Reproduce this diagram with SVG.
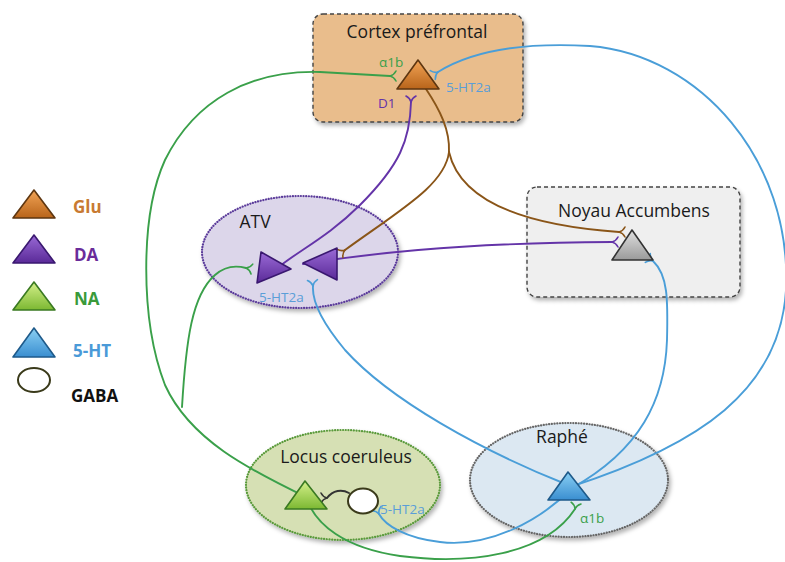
<svg xmlns="http://www.w3.org/2000/svg" xmlns:xlink="http://www.w3.org/1999/xlink" width="785" height="562" viewBox="0 0 785 562">
<defs>
<linearGradient id="gOr" x1="0" y1="0" x2="0" y2="1"><stop offset="0" stop-color="#F2A456"/><stop offset="1" stop-color="#B8641A"/></linearGradient>
<linearGradient id="gPu" x1="0" y1="0" x2="0" y2="1"><stop offset="0" stop-color="#9A6AD6"/><stop offset="1" stop-color="#5A2A98"/></linearGradient>
<linearGradient id="gGr" x1="0" y1="0" x2="0" y2="1"><stop offset="0" stop-color="#D4F08A"/><stop offset="1" stop-color="#7CB832"/></linearGradient>
<linearGradient id="gBl" x1="0" y1="0" x2="0" y2="1"><stop offset="0" stop-color="#8AD0F4"/><stop offset="1" stop-color="#3A8ED0"/></linearGradient>
<linearGradient id="gGy" x1="0" y1="0" x2="0" y2="1"><stop offset="0" stop-color="#E0E0E0"/><stop offset="1" stop-color="#9A9A9A"/></linearGradient>
<filter id="sh" x="-10%" y="-10%" width="130%" height="130%"><feDropShadow dx="2" dy="3" stdDeviation="2" flood-color="#000" flood-opacity="0.3"/></filter>
<path id="fork" d="M0 0 Q4 -1 6 -5 M0 0 Q4 1 6 5" fill="none" stroke="currentColor" stroke-width="1.6" stroke-linecap="round"/>
</defs>
<style>
text{font-family:"Open Sans","Liberation Sans",sans-serif}
.title{font-size:17.5px;fill:#1a1a1a}
.lab{font-size:13.5px}
.leg{font-size:17px;font-weight:bold}
.box{stroke:#444;stroke-width:1.4;stroke-dasharray:4 3}
.ell{stroke-width:2.2;stroke-dasharray:0.1 2.6;stroke-linecap:round}
.c{fill:none;stroke-width:1.9;stroke-linecap:round}
.gr{stroke:#3AA04A;color:#3AA04A}
.bl{stroke:#4A9ED8;color:#4A9ED8}
.pu{stroke:#6434A8;color:#6434A8}
.br{stroke:#8A5518;color:#8A5518}
.tOr{fill:url(#gOr);stroke:#5E3610;stroke-width:1.6;stroke-linejoin:round}
.tPu{fill:url(#gPu);stroke:#3A1870;stroke-width:1.6;stroke-linejoin:round}
.tGr{fill:url(#gGr);stroke:#3A7A22;stroke-width:1.6;stroke-linejoin:round}
.tBl{fill:url(#gBl);stroke:#1E5A8A;stroke-width:1.6;stroke-linejoin:round}
.tGy{fill:url(#gGy);stroke:#333;stroke-width:1.6;stroke-linejoin:round}
</style>
<rect width="785" height="562" fill="#fff"/>

<g id="cortex">
<rect class="box" x="313" y="14" width="210" height="108" rx="10" fill="#E9BD8C" filter="url(#sh)"/>
<text class="title" x="417" y="38" text-anchor="middle">Cortex préfrontal</text>
<text class="lab" x="379" y="67" fill="#3AA04A">α1b</text>
<text class="lab" x="446" y="92" fill="#5A9ED8">5-HT2a</text>
<text class="lab" x="378" y="108" fill="#6434A8">D1</text>
</g>

<g id="noyau-accumbens">
<rect class="box" x="527" y="187" width="213" height="110" rx="10" fill="#EFEFEF" filter="url(#sh)"/>
<text class="title" x="634" y="217" text-anchor="middle">Noyau Accumbens</text>
</g>

<g id="atv">
<ellipse class="ell" cx="300" cy="252" rx="98" ry="56" fill="#DCD6EA" stroke="#5A3A9A" filter="url(#sh)"/>
<text class="title" x="255" y="228" text-anchor="middle">ATV</text>
<text class="lab" x="259" y="302" fill="#5A9ED8">5-HT2a</text>
</g>

<g id="locus-coeruleus">
<ellipse class="ell" cx="343" cy="485" rx="97" ry="55" fill="#D6E0B4" stroke="#5A9A3A" filter="url(#sh)"/>
<text class="title" x="346" y="463" text-anchor="middle">Locus coeruleus</text>
<text class="lab" x="380" y="514" fill="#5A9ED8">5-HT2a</text>
</g>

<g id="raphe">
<ellipse class="ell" cx="569" cy="480" rx="99" ry="57" fill="#DCE8F2" stroke="#666" filter="url(#sh)"/>
<text class="title" x="562" y="443" text-anchor="middle">Raphé</text>
<text class="lab" x="580" y="523" fill="#3AA04A">α1b</text>
</g>

<g id="connectors">
<path class="c gr" d="M390 76 L320 72 C250 70 195 100 165 160 C140 215 140 320 165 385 C190 440 250 470 306 497"/>
<path class="c gr" d="M306 497 C315 525 345 548 400 556 C470 565 545 555 575 509"/>
<path class="c gr" d="M182 407 C186 340 192 295 215 275 C225 266 235 265 246 268"/>
<path class="c bl" d="M438 72 C470 52 520 42 590 46 C700 55 792 160 786 290 C780 390 700 445 570 487"/>
<path class="c bl" d="M653 261 C668 275 668 300 667 340 C665 400 640 450 572 488"/>
<path class="c bl" d="M313 286 C312 300 320 320 345 350 C390 400 480 450 568 485"/>
<path class="c bl" d="M570 490 C540 520 490 548 440 542 C405 538 385 525 379 514"/>
<path class="c pu" d="M411 102 C410 140 400 165 360 205 C330 235 300 250 280 266"/>
<path class="c pu" d="M303 264 C360 255 450 243 612 242"/>
<path class="c br" d="M426 89 C440 110 450 130 449 152"/>
<path class="c br" d="M449 152 C445 185 400 210 345 250"/>
<path class="c br" d="M449 152 C460 200 520 225 619 232"/>
<path class="c" stroke="#333" d="M327 498 C333 490 342 489 349 493"/>
<use xlink:href="#fork" class="gr" transform="translate(390 76)"/>
<use xlink:href="#fork" class="bl" transform="translate(438 72) rotate(150)"/>
<use xlink:href="#fork" class="pu" transform="translate(411 102) rotate(-90)"/>
<use xlink:href="#fork" class="gr" transform="translate(246 268) rotate(10)"/>
<use xlink:href="#fork" class="br" transform="translate(345 250) rotate(145)"/>
<use xlink:href="#fork" class="bl" transform="translate(313 286) rotate(-95)"/>
<use xlink:href="#fork" class="br" transform="translate(619 232)"/>
<use xlink:href="#fork" class="pu" transform="translate(612 242)"/>
<use xlink:href="#fork" class="bl" transform="translate(653 261) rotate(-150)"/>
<use xlink:href="#fork" class="bl" transform="translate(379 514) rotate(-115)"/>
<use xlink:href="#fork" class="gr" transform="translate(575 509) rotate(-80)"/>
<use xlink:href="#fork" style="color:#333" transform="translate(327 498) rotate(180)"/>
</g>

<g id="neurons">
<polygon id="cortex-glu" class="tOr" points="418,60 397,89 439,89"/>
<polygon id="nac-neuron" class="tGy" points="632,230 612,260 653,260"/>
<polygon id="atv-da1" class="tPu" points="261,252 257,283 291,269"/>
<polygon id="atv-da2" class="tPu" points="303,263 337,248 337,280"/>
<polygon id="lc-na" class="tGr" points="305,481 285,509 327,509"/>
<ellipse id="lc-gaba" cx="363" cy="501" rx="15" ry="12.5" fill="#fff" stroke="#3A3A1A" stroke-width="2"/>
<polygon id="raphe-5ht" class="tBl" points="568,472 548,500 590,500"/>
</g>

<g id="legend">
<polygon class="tOr" points="34,190 13,218 55,218"/>
<text class="leg" x="73" y="213" fill="#C87A32">Glu</text>
<polygon class="tPu" points="34,235 13,263 55,263"/>
<text class="leg" x="74" y="261" fill="#6A2C9A">DA</text>
<polygon class="tGr" points="34,282 13,310 55,310"/>
<text class="leg" x="74" y="305" fill="#3A9A3A">NA</text>
<polygon class="tBl" points="34,328 13,357 55,357"/>
<text class="leg" x="73" y="357" fill="#4A9AD8">5-HT</text>
<ellipse cx="34" cy="380" rx="16" ry="12" fill="#fff" stroke="#3A3A1A" stroke-width="2"/>
<text class="leg" x="71" y="402" fill="#111">GABA</text>
</g>
</svg>
